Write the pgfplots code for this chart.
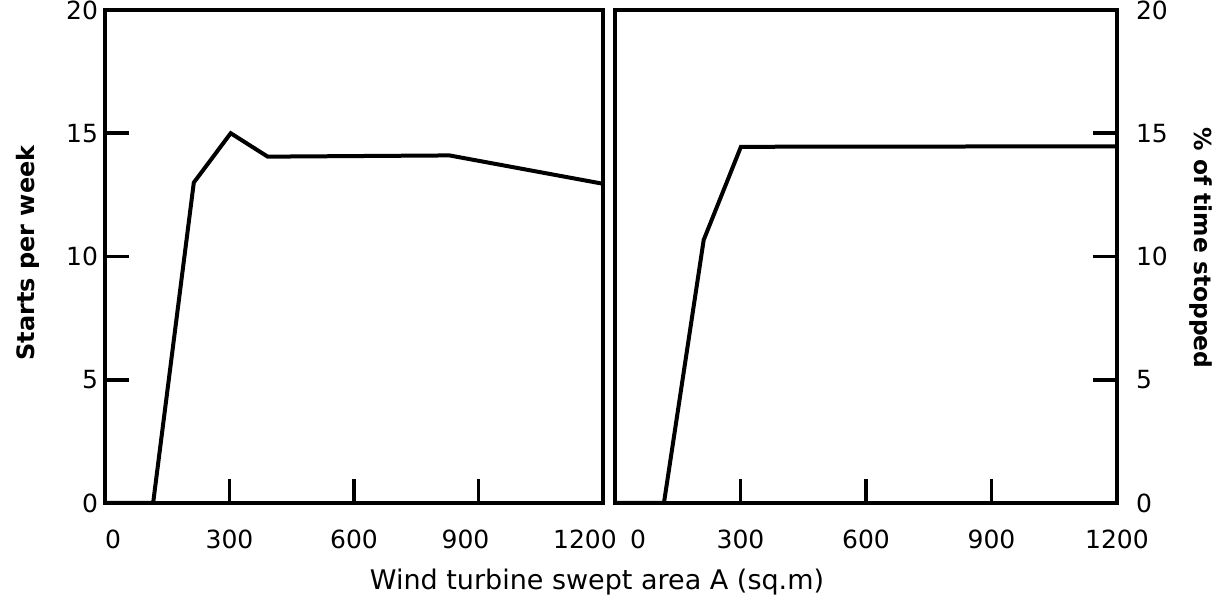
\documentclass[border=0pt]{standalone}
\usepackage{fontspec}
\setmainfont{DejaVu Sans}
\usepackage{pgfplots}
\pgfplotsset{compat=1.18}
\begin{document}
\begin{tikzpicture}
\useasboundingbox (-52.5pt,-52.5pt) rectangle (560.5pt,251.5pt);
\pgfplotsset{
  panel/.style={
    scale only axis,
    height=246.5pt,
    xmin=0, xmax=1200, ymin=0, ymax=20,
    axis line style={line width=1.8pt},
    tick style={line width=1.8pt, black},
    major tick length=12pt,
    tick align=inside,
    xtick={0,300,600,900,1200},
    ytick={0,5,10,15,20},
    xtick pos=bottom,
    /pgf/number format/assume math mode=true,
    tick label style={font=\fontsize{12.5}{15}\selectfont},
    xticklabel style={yshift=-10pt},
    clip=false,
  }
}
\begin{axis}[panel, width=249pt, at={(0pt,0pt)}, anchor=south west,
  ytick pos=left,
  yticklabel style={xshift=0pt},
  xticklabels={\hspace*{8pt}0,300,600,900\hspace*{13pt},1200\hspace*{18pt}}]
\addplot[black, line width=2pt] coordinates {
  (0,0) (116,0) (214,13.0) (303,15.0) (392,14.05) (830,14.1) (1200,12.95)
};
\end{axis}
\begin{axis}[panel, width=251pt, at={(255pt,0pt)}, anchor=south west,
  ytick pos=right,
  yticklabel style={xshift=6pt},
  xticklabels={\hspace*{23pt}0,300,600,900,1200}]
\addplot[black, line width=2pt] coordinates {
  (0,0) (117,0) (212,10.67) (301,14.45) (1200,14.47)
};
\end{axis}
\node[font=\fontsize{13.5}{15}\selectfont] at (246pt,-39.5pt) {Wind turbine swept area A (sq.m)};
\node[font=\fontsize{12}{14}\selectfont\bfseries, rotate=90] at (-38.75pt,125pt) {Starts per week};
\node[font=\fontsize{11.7}{14}\selectfont\bfseries, rotate=-90] at (548pt,127.5pt) {\% of time stopped};
\end{tikzpicture}
\end{document}
